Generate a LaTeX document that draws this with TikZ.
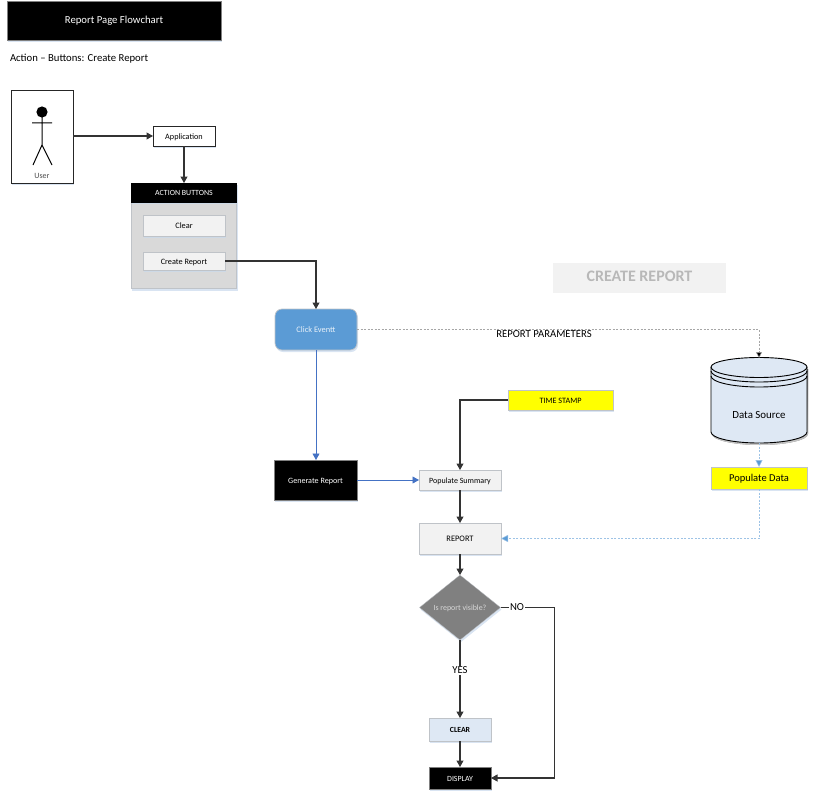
\documentclass[tikz,border=0pt]{standalone}
\usepackage{fontspec}
\setmainfont{Carlito}
\usetikzlibrary{arrows.meta,shadows,shapes.geometric}
\definecolor{edgegray}{HTML}{BFC3C8}
\definecolor{shade}{HTML}{C9D9EC}
\definecolor{panel}{HTML}{D9D9D9}
\definecolor{soft}{HTML}{F2F2F2}
\definecolor{steel}{HTML}{5B9BD5}
\definecolor{paleblue}{HTML}{DEE8F4}
\definecolor{linkblue}{HTML}{4472C4}
\definecolor{brightyellow}{HTML}{FFFF00}
\tikzset{
  x=1pt,y=-1pt,
  every node/.style={inner sep=0pt,outer sep=0pt,font=\fontsize{8}{9}\selectfont,align=center,text height=.63em,text depth=0pt},
  sh/.style={drop shadow={shadow xshift=1pt,shadow yshift=-2pt,fill=shade,opacity=.7}},
  softbox/.style={draw=edgegray,line width=.9pt,fill=soft,sh},
  blackbox/.style={draw=gray,line width=.7pt,fill=black,text=white,sh},
  linebox/.style={draw=black!85,line width=.9pt,fill=white,sh},
  yellowbox/.style={draw=edgegray,line width=.9pt,fill=brightyellow,sh},
  flow/.style={draw=black!80,line width=1.05pt,-{Triangle[length=6.5pt,width=7pt]}},
  blueflow/.style={draw=linkblue,line width=.8pt,-{Triangle[length=6.5pt,width=7pt]}},
  paramflow/.style={draw=black!35,line width=.5pt,dash pattern=on 2pt off 1.5pt,-{Triangle[length=6pt,width=6pt,fill=black]}},
  dataflow/.style={draw=steel!60,line width=.5pt,dash pattern=on 2pt off 1.5pt,-{Triangle[length=7pt,width=7pt,fill=steel]}},
  tag/.style={fill=white,font=\fontsize{10.7}{11}\selectfont,inner sep=1pt},
}
\begin{document}
\begin{tikzpicture}
\useasboundingbox (0,0) rectangle (813,797);
% header
\node[blackbox,font=\fontsize{10.7}{11}\selectfont,minimum width=214pt,minimum height=39pt] (title) at (114,20.5) {Report Page Flowchart};
\node[anchor=west,font=\fontsize{10.7}{11}\selectfont] (sub) at (10,58) {Action – Buttons: Create Report};
% user
\node[linebox,minimum width=62pt,minimum height=93pt] (user) at (42,136.5) {};
\node[font=\fontsize{8}{9}\selectfont,text=black!70] (userlabel) at (42,175) {User};
\fill (42,112) circle (5.6);
\draw[line width=1pt] (42,117) -- (42,145) (32,123) -- (52,123) (33,165) -- (42,145) -- (52,165);
% application
\node[linebox,font=\fontsize{8.2}{9}\selectfont,minimum width=62pt,minimum height=20pt] (app) at (184,136) {Application};
% action buttons
\node[draw=edgegray,line width=.7pt,fill=panel,sh,minimum width=105.5pt,minimum height=87pt] (panel) at (184,245) {};
\node[blackbox,draw=black,font=\fontsize{7.9}{8}\selectfont,minimum width=105.5pt,minimum height=19pt] (hdr) at (184,192.5) {ACTION BUTTONS};
\node[softbox,font=\fontsize{8.3}{9}\selectfont,minimum width=82pt,minimum height=21pt] (clearbtn) at (184,225.5) {Clear};
\node[softbox,font=\fontsize{8.2}{9}\selectfont,minimum width=82pt,minimum height=18pt] (create) at (184,261) {Create Report};
% badge
\node[fill=soft,text=black!28,font=\bfseries\fontsize{16}{17}\selectfont,minimum width=173pt,minimum height=30pt] (badge) at (639.5,278) {CREATE REPORT};
% click
\node[draw=edgegray,line width=.7pt,fill=steel,text=white!85!steel,rounded corners=7pt,sh,minimum width=82pt,minimum height=41pt,font=\fontsize{8.4}{9}\selectfont] (click) at (316,329.5) {Click Eventt};
% generate
\node[blackbox,font=\fontsize{8.1}{9}\selectfont,minimum width=83pt,minimum height=40pt] (gen) at (315.5,480) {Generate Report};
% time stamp
\node[yellowbox,font=\fontsize{8.2}{9}\selectfont,minimum width=105pt,minimum height=20pt] (stamp) at (560.5,400) {TIME STAMP};
% populate summary and report
\node[softbox,font=\fontsize{8}{9}\selectfont,minimum width=82pt,minimum height=20pt] (pop) at (460,480) {Populate Summary};
\node[softbox,font=\fontsize{8.4}{9}\selectfont,minimum width=82pt,minimum height=31pt] (report) at (460,538.5) {REPORT};
% decision
\node[diamond,aspect=1.25,draw=edgegray,line width=.3pt,fill=black!50,text=white!85!black,sh,minimum width=81pt,minimum height=65pt,font=\fontsize{7.9}{8}\selectfont] (vis) at (460,607.5) {Is report visible?};
\node[draw=edgegray,line width=.9pt,fill=paleblue,sh,font=\bfseries\fontsize{7.8}{8}\selectfont,minimum width=62pt,minimum height=23pt] (clr) at (460,729.5) {CLEAR};
\node[blackbox,font=\fontsize{7.9}{8}\selectfont,minimum width=62pt,minimum height=22pt] (disp) at (460,778) {DISPLAY};
% data source
\node[minimum width=96pt,minimum height=85pt] (ds) at (759,400.5) {};
\fill[shade,opacity=.7] (712,369) -- (712,434) arc[start angle=180,end angle=0,x radius=48,y radius=11] -- (808,369) -- cycle;
\draw[line width=.9pt,fill=paleblue] (711,367) -- (711,432) arc[start angle=180,end angle=0,x radius=48,y radius=11] -- (807,367) arc[start angle=0,end angle=-180,x radius=48,y radius=9.5] -- cycle;
\draw[line width=.9pt] (711,367) arc[start angle=180,end angle=0,x radius=48,y radius=10.5]
  (711,371) arc[start angle=180,end angle=0,x radius=48,y radius=11]
  (711,376) arc[start angle=180,end angle=0,x radius=48,y radius=11];
\node[font=\fontsize{10.9}{11}\selectfont] (dslabel) at (759,415) {Data Source};
\node[yellowbox,font=\fontsize{10.5}{11}\selectfont,minimum width=96pt,minimum height=22pt] (popdata) at (759,478) {Populate Data};
% connectors
\coordinate (userout) at (user.east |- app.west);
\draw[flow] (userout) -- (app.west);
\draw[flow] (app.south) -- (hdr.north);
\draw[flow] (create.east) -| (click.north);
\draw[blueflow] (click.south) -- (click.south |- gen.north);
\draw[blueflow] (gen.east) -- (pop.west);
\draw[flow] (stamp.west) -| (pop.north);
\draw[flow] (pop.south) -- (report.north);
\draw[flow] (report.south) -- (vis.north);
\draw[flow] (vis.south) -- node[tag,pos=.39] (yes) {YES} (clr.north);
\draw[flow] (clr.south) -- (disp.north);
\draw[flow] (vis.east) -- ++(54,0) |- (disp.east);
\node[tag] (no) at (517,607.5) {NO};
\draw[paramflow] (click.east) -| (ds.north);
\node[tag,inner sep=.5pt] (params) at (544,334) {REPORT PARAMETERS};
\draw[dataflow] (ds.south) -- (popdata.north);
\draw[dataflow] (popdata.south) |- (report.east);
\end{tikzpicture}
\end{document}
